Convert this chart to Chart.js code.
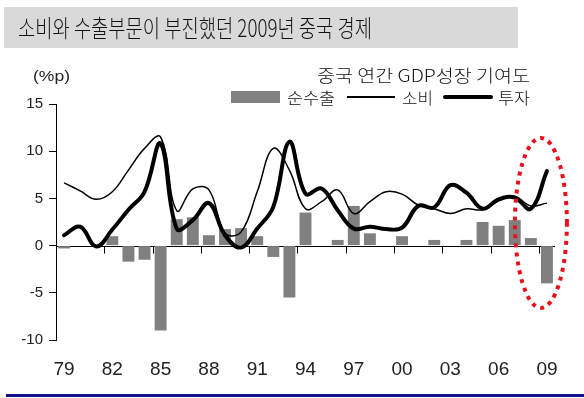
<!DOCTYPE html>
<html><head><meta charset="utf-8">
<script src="https://cdn.jsdelivr.net/npm/chart.js@4/dist/chart.umd.min.js"></script>
<style>
html,body{margin:0;padding:0;background:#fff;}
#wrap{position:relative;width:584px;height:398px;overflow:hidden;font-family:"Noto Sans CJK KR","Noto Sans",sans-serif;font-weight:300;color:#111;}
#c{position:absolute;left:0;top:0;}
.t{position:absolute;white-space:nowrap;transform-origin:0 50%;line-height:1;}
#titlebox{position:absolute;left:4px;top:7px;width:514px;height:41px;background:#d9d9d9;}
#bline{position:absolute;left:6px;top:394px;width:578px;height:3px;background:#12128a;}
.sw{position:absolute;}
</style></head>
<body><div id="wrap">
<div id="titlebox"></div>
<div id="bline"></div>
<canvas id="c" width="584" height="398"></canvas>
<span class="t" id="title" style="left:18px;top:27px;font-size:24px;" data-w="354">소비와 수출부문이 부진했던 2009년 중국 경제</span>
<span class="t" id="unit" style="left:33px;top:75px;font-size:15px;font-family:'Liberation Sans',Arial,sans-serif;font-weight:400;color:#222" data-w="37">(%p)</span>
<span class="t" id="lt" style="left:317px;top:74px;font-size:17px;" data-w="213">중국 연간 GDP성장 기여도</span>
<div class="sw" style="left:231px;top:91px;width:49px;height:12px;background:#808080"></div>
<span class="t" style="left:287px;top:97px;font-size:16px;" data-w="48">순수출</span>
<div class="sw" style="left:347px;top:96px;width:48px;height:2px;background:#000"></div>
<span class="t" style="left:402px;top:97px;font-size:16px;" data-w="31">소비</span>
<div class="sw" style="left:443px;top:95px;width:50px;height:4px;background:#000;border-radius:2px"></div>
<span class="t" style="left:498px;top:97px;font-size:16px;" data-w="32">투자</span>
</div>
<script>
const years = ['79','80','81','82','83','84','85','86','87','88','89','90','91','92','93','94','95','96','97','98','99','00','01','02','03','04','05','06','07','08','09'];
const netExports = [-0.3,0,0,1.0,-1.7,-1.5,-9.0,2.8,3.0,1.1,1.75,1.85,1.0,-1.2,-5.5,3.5,0,0.6,4.2,1.3,0,1.0,0,0.6,0,0.6,2.5,2.1,2.7,0.8,-4.0];
const consumption = [6.65,5.8,4.9,5.7,8.0,10.3,11.5,3.7,6.0,5.9,1.3,1.45,5.7,10.3,8.0,3.9,4.65,5.9,3.4,4.65,5.7,5.45,4.3,3.9,3.4,3.9,3.8,4.75,5.2,4.2,4.5];
const investment = [1.1,2.0,-0.1,1.7,3.8,5.7,10.8,1.8,2.7,4.5,1.1,-0.2,1.8,4.1,11.0,5.5,6.05,3.75,1.8,2.0,1.75,1.9,4.2,4.05,6.4,5.6,3.9,4.9,5.1,3.9,7.9];
const yTicks = [-10,-5,0,5,10,15];
const seriesNames = ['순수출','소비','투자'];

document.querySelectorAll('.t').forEach(el=>{
  const w = el.getBoundingClientRect().width;
  const target = +el.dataset.w;
  el.style.transform = 'translateY(-50%) scaleX(' + (target / w) + ')';
});

const decor = {
  id:'decor',
  beforeDatasetsDraw(chart){
    const {ctx, chartArea:a, scales:{x,y}} = chart;
    const y0 = Math.round(y.getPixelForValue(0)) + 0.5;
    ctx.save();
    ctx.strokeStyle = '#000'; ctx.lineWidth = 1;
    ctx.beginPath(); ctx.moveTo(a.left, y0); ctx.lineTo(a.right, y0); ctx.stroke();
    const half = (x.getPixelForValue(1) - x.getPixelForValue(0)) / 2;
    for (let i = 3; i < years.length; i += 3) {
      const px = Math.round(x.getPixelForValue(i) - half) + 0.5;
      ctx.beginPath(); ctx.moveTo(px, y0); ctx.lineTo(px, y0 + 7); ctx.stroke();
    }
    ctx.restore();
  },
  afterDatasetsDraw(chart){
    const {ctx, scales:{x,y}} = chart;
    const cx = (x.getPixelForValue(29) + x.getPixelForValue(30)) / 2 + 2;
    const cy = y.getPixelForValue(2.4);
    const ry = Math.abs(y.getPixelForValue(9) - y.getPixelForValue(0));
    ctx.save();
    ctx.strokeStyle = '#e8101a'; ctx.lineWidth = 4; ctx.setLineDash([4,5]);
    ctx.beginPath(); ctx.ellipse(cx, cy, 26, ry, 0, 0, Math.PI*2); ctx.stroke();
    ctx.restore();
  }
};

new Chart(document.getElementById('c'), {
  data: {
    labels: years,
    datasets: [
      {type:'line', label:seriesNames[2], data:investment, borderColor:'#000', borderWidth:4, pointRadius:0, tension:0.4, order:1, borderCapStyle:'round'},
      {type:'line', label:seriesNames[1], data:consumption, borderColor:'#000', borderWidth:1.5, pointRadius:0, tension:0.4, order:2},
      {type:'bar', label:seriesNames[0], data:netExports, backgroundColor:'#808080', borderWidth:0, barPercentage:0.74, categoryPercentage:1, order:3}
    ]
  },
  options: {
    responsive:false, animation:false, devicePixelRatio:1,
    layout:{padding:{left:0, right:29, top:104, bottom:0}},
    plugins:{legend:{display:false}, tooltip:{enabled:false}},
    scales:{
      x:{
        offset:true,
        grid:{display:false},
        border:{display:false},
        ticks:{autoSkip:false, maxRotation:0, padding:10, color:'#222',
          font:{family:"'Liberation Sans', Arial, sans-serif", size:19},
          callback:(v,i)=> i%3===0 ? years[i] : ''},
        afterFit:(s)=>{ s.height = 58; }
      },
      y:{
        min:-10, max:15,
        afterBuildTicks:(s)=>{ s.ticks = yTicks.map(v=>({value:v})); },
        grid:{drawOnChartArea:false, tickLength:7, color:'#000'},
        border:{display:true, color:'#000', width:1},
        ticks:{padding:6, color:'#222', font:{family:"'Liberation Sans', Arial, sans-serif", size:15}},
        afterFit:(s)=>{ s.width = 56; }
      }
    }
  },
  plugins:[decor]
});
</script>
</body></html>
